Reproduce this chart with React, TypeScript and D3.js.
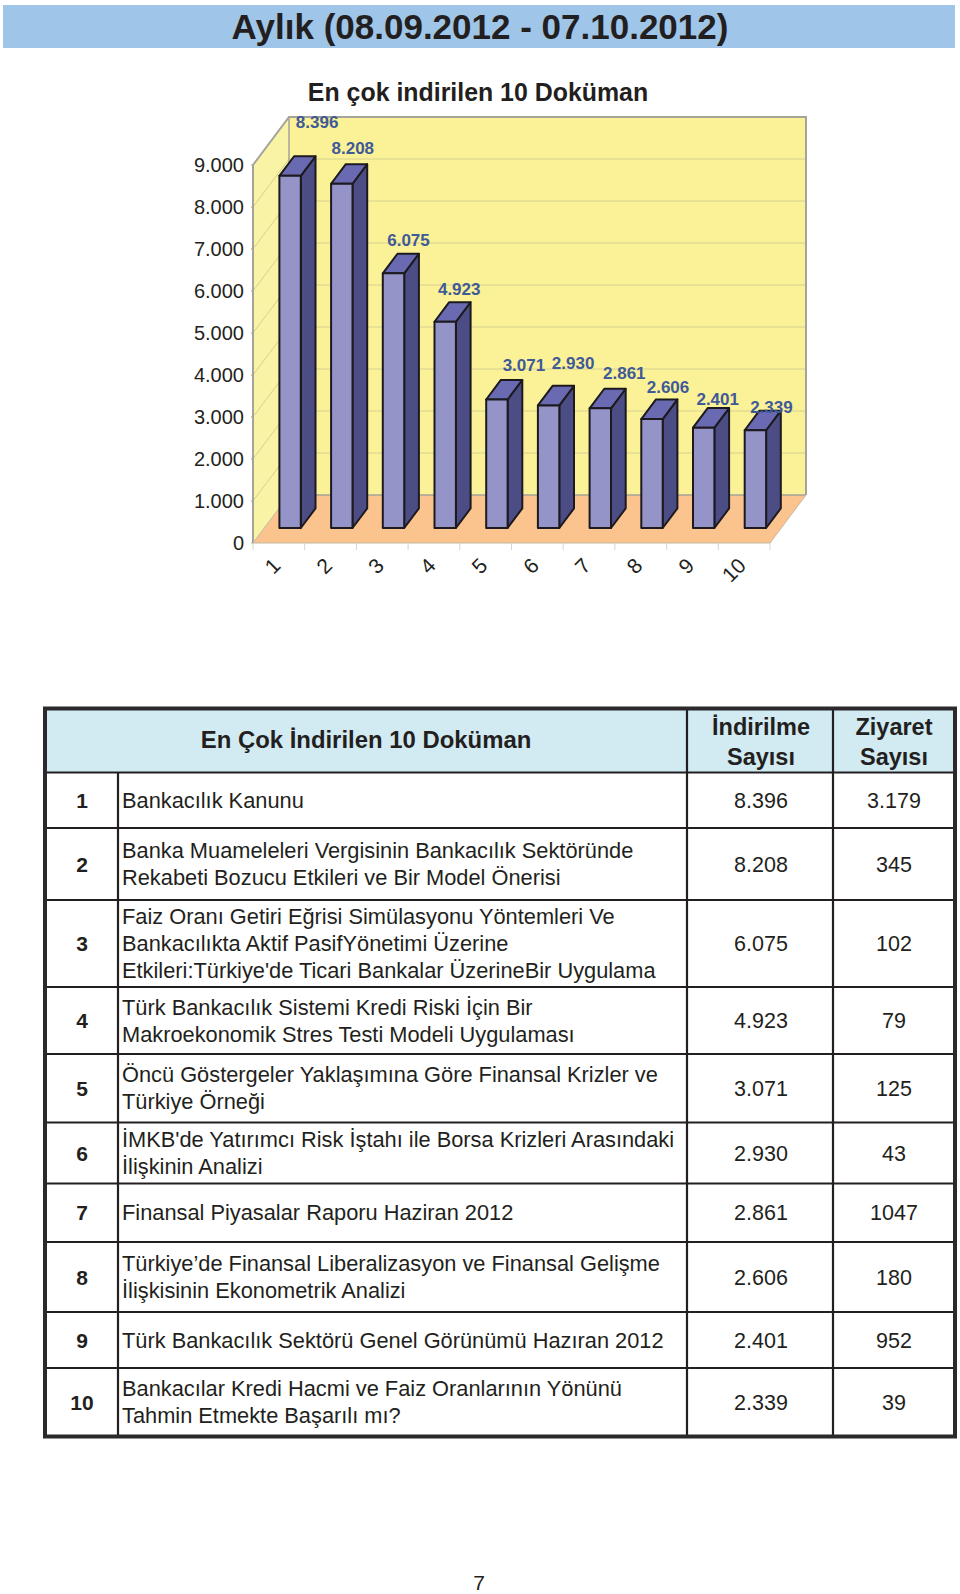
import * as d3 from 'd3';
import React, { useEffect, useRef } from 'react';

const ranks = ['1', '2', '3', '4', '5', '6', '7', '8', '9', '10'];
const downloads = [8396, 8208, 6075, 4923, 3071, 2930, 2861, 2606, 2401, 2339];
const downloadLabels = ['8.396', '8.208', '6.075', '4.923', '3.071', '2.930', '2.861', '2.606', '2.401', '2.339'];
const visitLabels = ['3.179', '345', '102', '79', '125', '43', '1047', '180', '952', '39'];
const yTicks = [0, 1000, 2000, 3000, 4000, 5000, 6000, 7000, 8000, 9000];
const yTickLabels = ['0', '1.000', '2.000', '3.000', '4.000', '5.000', '6.000', '7.000', '8.000', '9.000'];
const documents = [
  ['Bankacılık Kanunu'],
  ['Banka Muameleleri Vergisinin Bankacılık Sektöründe', 'Rekabeti Bozucu Etkileri ve Bir Model Önerisi'],
  ['Faiz Oranı Getiri Eğrisi Simülasyonu Yöntemleri Ve', 'Bankacılıkta Aktif PasifYönetimi Üzerine', "Etkileri:Türkiye'de Ticari Bankalar ÜzerineBir Uygulama"],
  ['Türk Bankacılık Sistemi Kredi Riski İçin Bir', 'Makroekonomik Stres Testi Modeli Uygulaması'],
  ['Öncü Göstergeler Yaklaşımına Göre Finansal Krizler ve', 'Türkiye Örneği'],
  ["İMKB'de Yatırımcı Risk İştahı ile Borsa Krizleri Arasındaki", 'İlişkinin Analizi'],
  ['Finansal Piyasalar Raporu Haziran 2012'],
  ['Türkiye’de Finansal Liberalizasyon ve Finansal Gelişme', 'İlişkisinin Ekonometrik Analizi'],
  ['Türk Bankacılık Sektörü Genel Görünümü Hazıran 2012'],
  ['Bankacılar Kredi Hacmi ve Faiz Oranlarının Yönünü', 'Tahmin Etmekte Başarılı mı?'],
];

// hand placed data labels in the original, offsets from the bar centre / bar top
const labelDx = [27, 11, 15, 14, 27, 24.5, 24, 16, 14, 16];
const labelDy = [-47, -29, -27, -26, -28, -36, -29, -25.5, -22, -17];

const rowLines = [772.5, 828, 900, 987, 1054, 1122.5, 1183.5, 1242, 1312, 1368, 1436.5];
const colLines = [45, 118, 687, 833, 955];

const FONT = "'Liberation Sans', Arial, sans-serif";
const INK = '#231f20';

function App() {
  const chartRef = useRef<SVGSVGElement>(null);

  useEffect(() => {
    const svg = d3.select(chartRef.current);
    svg.selectAll('*').remove();
    svg.attr('font-family', FONT);

    const text = (x: number, y: number, s: string, size: number, anchor = 'middle', weight = 'normal', fill = INK) =>
      svg.append('text').attr('x', x).attr('y', y).attr('font-size', size)
        .attr('text-anchor', anchor).attr('font-weight', weight).attr('fill', fill).text(s);

    // title band
    svg.append('rect').attr('x', 3).attr('y', 5).attr('width', 952).attr('height', 43).attr('fill', '#9fc5e8');
    text(480, 38.5, 'Aylık (08.09.2012 - 07.10.2012)', 35, 'middle', 'bold');
    text(478, 101, 'En çok indirilen 10 Doküman', 24.9, 'middle', 'bold');

    // chart
    const x = d3.scaleBand<string>().domain(ranks).range([253, 770]);
    const y = d3.scaleLinear().domain([0, 9000]).range([543, 165]);
    const depth = { x: 36, y: -48 };
    const line = d3.line();
    const poly = (pts: [number, number][]) => line(pts) + 'Z';

    const x0 = x.range()[0];
    const x1 = x.range()[1];
    const yBase = y(0);
    const yTop = y(9000);

    // back wall, side wall, floor
    svg.append('path')
      .attr('d', poly([[x0 + depth.x, yTop + depth.y], [x1 + depth.x, yTop + depth.y], [x1 + depth.x, yBase + depth.y], [x0 + depth.x, yBase + depth.y]]))
      .attr('fill', '#fbf197');
    svg.append('path')
      .attr('d', poly([[x0, yTop], [x0 + depth.x, yTop + depth.y], [x0 + depth.x, yBase + depth.y], [x0, yBase]]))
      .attr('fill', '#f9f3a6');
    svg.append('path')
      .attr('d', poly([[x0, yBase], [x0 + depth.x, yBase + depth.y], [x1 + depth.x, yBase + depth.y], [x1, yBase]]))
      .attr('fill', '#fbc48e');

    // gridlines
    yTicks.slice(1, -1).forEach(t => {
      svg.append('path')
        .attr('d', line([[x0, y(t)], [x0 + depth.x, y(t) + depth.y], [x1 + depth.x, y(t) + depth.y]]))
        .attr('fill', 'none').attr('stroke', '#d6d08f').attr('stroke-width', 1);
    });

    // wall edges
    svg.append('path')
      .attr('d', line([[x0, yBase], [x0, yTop], [x0 + depth.x, yTop + depth.y], [x1 + depth.x, yTop + depth.y], [x1 + depth.x, yBase + depth.y]]))
      .attr('fill', 'none').attr('stroke', '#a5a39a').attr('stroke-width', 2);
    svg.append('path')
      .attr('d', line([[x0 + depth.x, yTop + depth.y], [x0 + depth.x, yBase + depth.y], [x1 + depth.x, yBase + depth.y]]))
      .attr('fill', 'none').attr('stroke', '#a5a39a').attr('stroke-width', 1.5);
    svg.append('path')
      .attr('d', line([[x0 + depth.x, yBase + depth.y], [x0, yBase], [x1, yBase], [x1 + depth.x, yBase + depth.y]]))
      .attr('fill', 'none').attr('stroke', '#c4b7a0').attr('stroke-width', 1);

    // axis ticks + labels
    yTicks.forEach((t, i) => {
      text(244, y(t) + 7, yTickLabels[i], 20, 'end');
      svg.append('line').attr('x1', x0 - 2).attr('x2', x0).attr('y1', y(t)).attr('y2', y(t)).attr('stroke', '#a5a39a');
    });
    [...ranks.map(r => x(r)!), x1].forEach(px => {
      svg.append('line').attr('x1', px).attr('x2', px).attr('y1', yBase).attr('y2', yBase + 7).attr('stroke', '#d4d4d4');
    });
    ranks.forEach(r => {
      const cx = x(r)! + x.bandwidth() / 2;
      svg.append('text')
        .attr('transform', `translate(${cx + 3},${yBase + 24}) rotate(-45)`)
        .attr('text-anchor', 'end').attr('font-size', 21).attr('fill', INK).text(r);
    });

    // bars
    const barW = 21.4;
    const barDepth = { x: 14.7, y: -19.6 };
    const barInset = { x: 11.25, y: -15 };
    const barG = svg.append('g')
      .attr('stroke', '#1c1a1e').attr('stroke-width', 2).attr('stroke-linejoin', 'round');
    ranks.forEach((r, i) => {
      const left = x(r)! + x.bandwidth() / 2 + barInset.x - barW / 2;
      const right = left + barW;
      const bottom = yBase + barInset.y;
      const top = y(downloads[i]) + barInset.y + 0.5;
      barG.append('path')
        .attr('d', poly([[right, bottom], [right + barDepth.x, bottom + barDepth.y], [right + barDepth.x, top + barDepth.y], [right, top]]))
        .attr('fill', '#4d4d85');
      barG.append('path')
        .attr('d', poly([[left, top], [left + barDepth.x, top + barDepth.y], [right + barDepth.x, top + barDepth.y], [right, top]]))
        .attr('fill', '#6a6ab2');
      barG.append('path')
        .attr('d', poly([[left, top], [right, top], [right, bottom], [left, bottom]]))
        .attr('fill', '#9494c9');
    });
    ranks.forEach((r, i) => {
      const cx = x(r)! + x.bandwidth() / 2 + barInset.x;
      text(cx + labelDx[i], y(downloads[i]) + barInset.y + labelDy[i], downloadLabels[i], 17, 'middle', 'bold', '#3f5a98');
    });

    // table
    const tableTop = 708.5;
    const [cRank, cDoc, cDown, cVisit, cEnd] = colLines;
    svg.append('rect').attr('x', cRank).attr('y', tableTop).attr('width', cEnd - cRank).attr('height', rowLines[0] - tableTop)
      .attr('fill', '#d2eaf2');

    rowLines.slice(0, -1).forEach(ly => {
      svg.append('line').attr('x1', cRank).attr('x2', cEnd).attr('y1', ly).attr('y2', ly).attr('stroke', INK).attr('stroke-width', 2.2);
    });
    [cDown, cVisit].forEach(lx => {
      svg.append('line').attr('x1', lx).attr('x2', lx).attr('y1', tableTop).attr('y2', rowLines[10]).attr('stroke', INK).attr('stroke-width', 2.2);
    });
    svg.append('line').attr('x1', cDoc).attr('x2', cDoc).attr('y1', rowLines[0]).attr('y2', rowLines[10]).attr('stroke', INK).attr('stroke-width', 2.2);
    svg.append('rect').attr('x', cRank).attr('y', tableTop).attr('width', cEnd - cRank).attr('height', rowLines[10] - tableTop)
      .attr('fill', 'none').attr('stroke', '#2b292b').attr('stroke-width', 4);

    const midDown = (cDown + cVisit) / 2 + 1;
    const midVisit = (cVisit + cEnd) / 2;
    text((cRank + cDown) / 2, 748, 'En Çok İndirilen 10 Doküman', 23.9, 'middle', 'bold');
    text(midDown, 734.5, 'İndirilme', 23.5, 'middle', 'bold');
    text(midDown, 765, 'Sayısı', 23.5, 'middle', 'bold');
    text(midVisit, 734.5, 'Ziyaret', 23.5, 'middle', 'bold');
    text(midVisit, 765, 'Sayısı', 23.5, 'middle', 'bold');

    documents.forEach((lines, i) => {
      const mid = (rowLines[i] + rowLines[i + 1]) / 2;
      text((cRank + cDoc) / 2 + 0.5, mid + 7.5, ranks[i], 21, 'middle', 'bold');
      lines.forEach((s, j) => {
        text(122, mid + 7.5 + (j - (lines.length - 1) / 2) * 27, s, 21.8, 'start');
      });
      text(midDown, mid + 7.5, downloadLabels[i], 21.5);
      text(midVisit, mid + 7.5, visitLabels[i], 21.5);
    });

    text(479, 1590, '7', 21);
  }, []);

  return (
    <svg ref={chartRef} width={960} height={1594}
      style={{ position: 'absolute', left: 0, top: 0, display: 'block' }} />
  );
}

export default App;
